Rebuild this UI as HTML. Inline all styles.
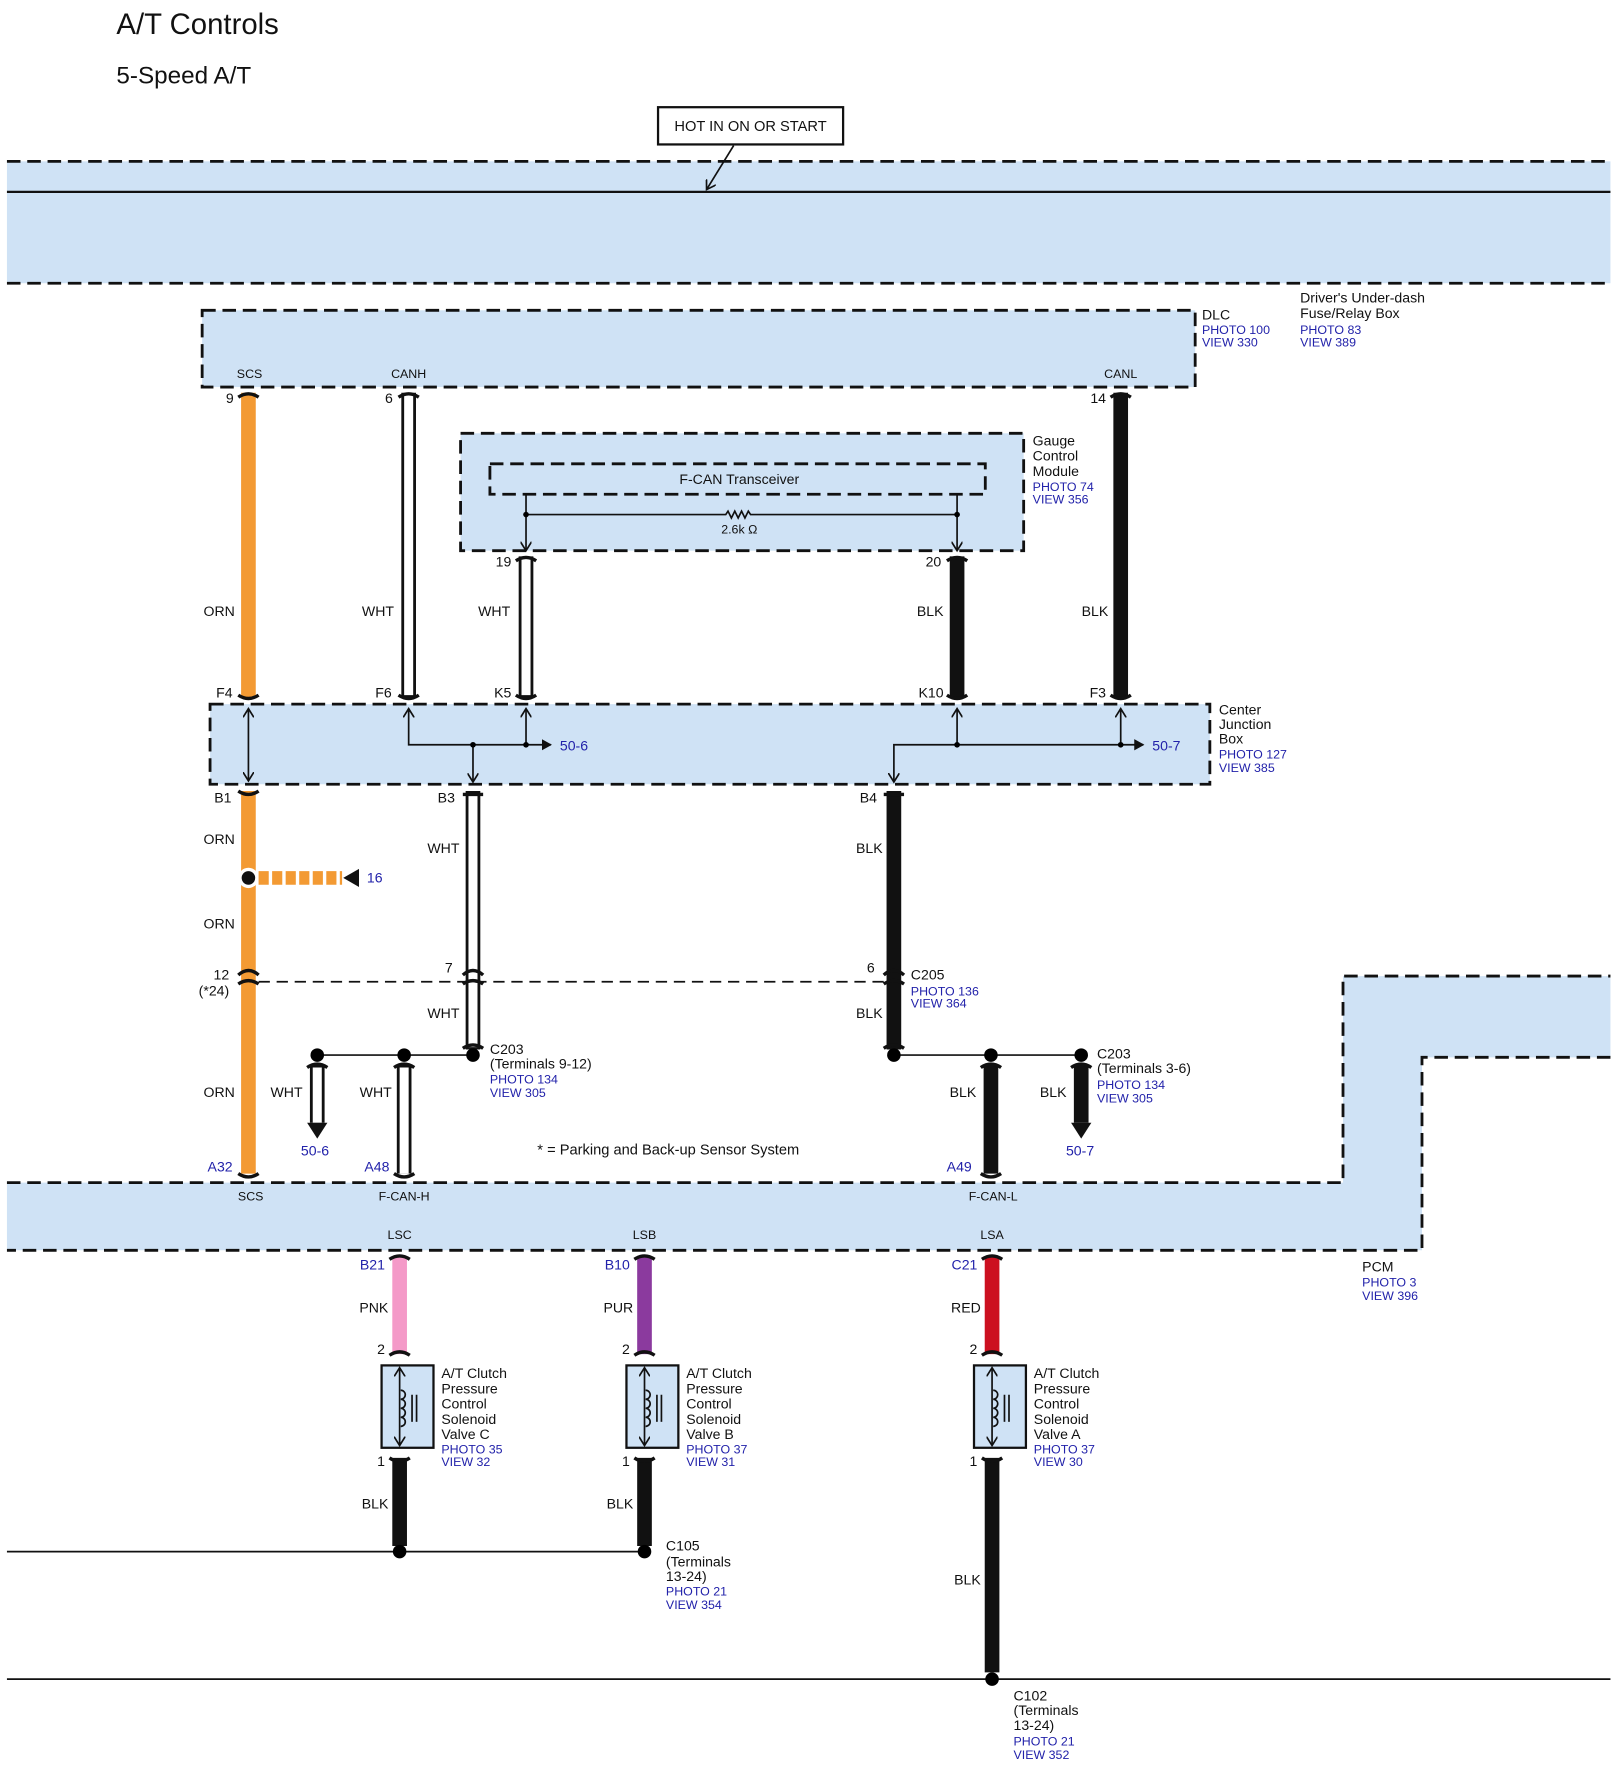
<!DOCTYPE html>
<html><head><meta charset="utf-8"><style>
html,body{margin:0;padding:0;background:#fff}
svg{display:block}
text{font-family:"Liberation Sans",sans-serif;font-size:12.5px;fill:#111}
.b{fill:#2222aa;font-size:11px}
.bl{fill:#2222aa}
.s{font-size:11px}
.d{stroke:#111;stroke-width:2.5;stroke-dasharray:12 6}
.ln{stroke:#111;stroke-width:1.5;fill:none}
.cap{stroke:#111;stroke-width:3;fill:none}
</style></head><body>
<svg width="1614" height="1766" viewBox="0 0 1430 1565" xmlns="http://www.w3.org/2000/svg">
<defs>
<marker id="ah" markerWidth="10" markerHeight="10" refX="8" refY="5" orient="auto-start-reverse" markerUnits="userSpaceOnUse"><path d="M0,0 L8,5 L0,10" fill="none" stroke="#111" stroke-width="1.5"/></marker>
<marker id="at" markerWidth="10" markerHeight="10" refX="8" refY="5" orient="auto-start-reverse" markerUnits="userSpaceOnUse"><path d="M0,0 L9,5 L0,10 Z" fill="#111"/></marker>
</defs>
<text x="103" y="30" style="font-size:26px">A/T Controls</text>
<text x="103" y="74" style="font-size:21.5px">5-Speed A/T</text>
<rect x="583" y="95" width="164" height="33" fill="#fff" stroke="#111" stroke-width="2"/>
<text x="665" y="116" text-anchor="middle" style="font-size:13px">HOT IN ON OR START</text>

<!-- top band -->
<rect x="6" y="143" width="1421" height="108" fill="#cfe2f5"/>
<line x1="6" y1="143" x2="1427" y2="143" class="d"/>
<line x1="6" y1="251" x2="1427" y2="251" class="d"/>
<line x1="6" y1="170" x2="1427" y2="170" stroke="#111" stroke-width="2"/>
<line x1="650" y1="129" x2="626" y2="168" class="ln" marker-end="url(#ah)"/>

<!-- DLC -->
<rect x="179" y="275" width="880" height="68" style="fill:#cfe2f5" class="d"/>
<text x="221" y="335" text-anchor="middle" class="s">SCS</text>
<text x="362" y="335" text-anchor="middle" class="s">CANH</text>
<text x="993" y="335" text-anchor="middle" class="s">CANL</text>
<text x="1065" y="283">DLC</text><text x="1065" y="296" class="b">PHOTO 100</text><text x="1065" y="307" class="b">VIEW 330</text>
<text x="1152" y="268">Driver's Under-dash</text><text x="1152" y="282">Fuse/Relay Box</text><text x="1152" y="296" class="b">PHOTO 83</text><text x="1152" y="307" class="b">VIEW 389</text>

<!-- Gauge -->
<rect x="408" y="384" width="499" height="104" style="fill:#cfe2f5" class="d"/>
<rect x="434" y="411" width="439" height="27" style="fill:none" class="d"/>
<text x="655" y="429" text-anchor="middle">F-CAN Transceiver</text>
<line x1="466" y1="438" x2="466" y2="488" class="ln" marker-end="url(#ah)"/>
<line x1="848" y1="438" x2="848" y2="488" class="ln" marker-end="url(#ah)"/>
<path d="M466,456 H643 l2,-3 l3,6 l3,-6 l3,6 l3,-6 l3,6 l3,-6 l2,3 H848" class="ln"/>
<circle cx="466" cy="456" r="2.5"/><circle cx="848" cy="456" r="2.5"/>
<text x="655" y="473" text-anchor="middle" class="s">2.6k Ω</text>
<text x="915" y="395">Gauge</text><text x="915" y="408">Control</text><text x="915" y="422">Module</text>
<text x="915" y="435" class="b">PHOTO 74</text><text x="915" y="446" class="b">VIEW 356</text>

<!-- wires top segment -->
<line x1="220" y1="348" x2="220" y2="618" stroke="#f39a33" stroke-width="13"/>
<line x1="362" y1="348" x2="362" y2="618" stroke="#111" stroke-width="13"/><line x1="362" y1="350" x2="362" y2="616" stroke="#fff" stroke-width="8"/>
<line x1="466" y1="493" x2="466" y2="618" stroke="#111" stroke-width="13"/><line x1="466" y1="495" x2="466" y2="616" stroke="#fff" stroke-width="8"/>
<line x1="848" y1="493" x2="848" y2="618" stroke="#111" stroke-width="13"/>
<line x1="993" y1="348" x2="993" y2="618" stroke="#111" stroke-width="13"/>
<g class="cap">
<path d="M211,352 Q220,346 229,352"/><path d="M353,352 Q362,346 371,352"/><path d="M984,352 Q993,346 1002,352"/>
<path d="M457,497 Q466,491 475,497"/><path d="M839,497 Q848,491 857,497"/>
<path d="M211,616 Q220,622 229,616"/><path d="M353,616 Q362,622 371,616"/><path d="M457,616 Q466,622 475,616"/><path d="M839,616 Q848,622 857,616"/><path d="M984,616 Q993,622 1002,616"/>
</g>
<text x="207" y="357" text-anchor="end">9</text><text x="348" y="357" text-anchor="end">6</text><text x="980" y="357" text-anchor="end">14</text>
<text x="453" y="502" text-anchor="end">19</text><text x="834" y="502" text-anchor="end">20</text>
<text x="208" y="546" text-anchor="end">ORN</text><text x="349" y="546" text-anchor="end">WHT</text><text x="452" y="546" text-anchor="end">WHT</text><text x="836" y="546" text-anchor="end">BLK</text><text x="982" y="546" text-anchor="end">BLK</text>
<text x="206" y="618" text-anchor="end">F4</text><text x="347" y="618" text-anchor="end">F6</text><text x="453" y="618" text-anchor="end">K5</text><text x="836" y="618" text-anchor="end">K10</text><text x="980" y="618" text-anchor="end">F3</text>

<!-- Junction box -->
<rect x="186" y="624" width="886" height="71" style="fill:#cfe2f5" class="d"/>
<line x1="220" y1="628" x2="220" y2="692" class="ln" marker-start="url(#ah)" marker-end="url(#ah)"/>
<path d="M362,628 V660 H488" class="ln" marker-end="url(#at)" marker-start="url(#ah)"/>
<line x1="466" y1="660" x2="466" y2="628" class="ln" marker-end="url(#ah)"/>
<line x1="419" y1="660" x2="419" y2="693" class="ln" marker-end="url(#ah)"/>
<circle cx="419" cy="660" r="2.5"/><circle cx="466" cy="660" r="2.5"/>
<text x="496" y="665" class="bl">50-6</text>
<path d="M792,693 V660 H1013" class="ln" marker-start="url(#ah)" marker-end="url(#at)"/>
<line x1="848" y1="660" x2="848" y2="628" class="ln" marker-end="url(#ah)"/>
<line x1="993" y1="660" x2="993" y2="628" class="ln" marker-end="url(#ah)"/>
<circle cx="848" cy="660" r="2.5"/><circle cx="993" cy="660" r="2.5"/>
<text x="1021" y="665" class="bl">50-7</text>
<text x="1080" y="633">Center</text><text x="1080" y="646">Junction</text><text x="1080" y="659">Box</text>
<text x="1080" y="672" class="b">PHOTO 127</text><text x="1080" y="684" class="b">VIEW 385</text>

<!-- middle wires -->
<line x1="220" y1="701" x2="220" y2="1040" stroke="#f39a33" stroke-width="13"/>
<line x1="419" y1="701" x2="419" y2="930" stroke="#111" stroke-width="13"/><line x1="419" y1="703" x2="419" y2="928" stroke="#fff" stroke-width="8"/>
<line x1="792" y1="701" x2="792" y2="930" stroke="#111" stroke-width="13"/>
<g class="cap">
<path d="M211,701 Q220,707 229,701" /><path d="M410,704 H428"/><path d="M783,704 H801"/>
<path d="M211,864 Q220,856 229,864"/><path d="M211,872 Q220,866 229,872"/>
<path d="M410,864 Q419,856 428,864"/><path d="M410,872 Q419,866 428,872"/>
<path d="M783,864 Q792,856 801,864"/><path d="M783,872 Q792,866 801,872"/>
<path d="M410,929 Q419,923 428,929"/><path d="M783,929 Q792,923 801,929"/>
</g>
<line x1="229" y1="870" x2="783" y2="870" class="ln" stroke-dasharray="10 6"/>
<text x="205" y="711" text-anchor="end">B1</text><text x="403" y="711" text-anchor="end">B3</text><text x="777" y="711" text-anchor="end">B4</text>
<text x="208" y="748" text-anchor="end">ORN</text><text x="208" y="823" text-anchor="end">ORN</text><text x="208" y="972" text-anchor="end">ORN</text>
<text x="407" y="756" text-anchor="end">WHT</text><text x="782" y="756" text-anchor="end">BLK</text>
<text x="407" y="902" text-anchor="end">WHT</text><text x="782" y="902" text-anchor="end">BLK</text>
<circle cx="220" cy="778" r="9" fill="#fff"/><circle cx="220" cy="778" r="6" fill="#111"/>
<line x1="229" y1="778" x2="303" y2="778" stroke="#f39a33" stroke-width="12" stroke-dasharray="9 3"/>
<path d="M318,770 L304,778 L318,786 Z" fill="#111"/>
<text x="325" y="782" class="bl">16</text>
<text x="203" y="868" text-anchor="end">12</text><text x="203" y="882" text-anchor="end">(*24)</text>
<text x="401" y="862" text-anchor="end">7</text><text x="775" y="862" text-anchor="end">6</text>
<text x="807" y="868">C205</text><text x="807" y="882" class="b">PHOTO 136</text><text x="807" y="893" class="b">VIEW 364</text>

<!-- C203 left -->
<line x1="281" y1="935" x2="419" y2="935" class="ln"/>
<circle cx="419" cy="935" r="6"/><circle cx="358" cy="935" r="6"/><circle cx="281" cy="935" r="6"/>
<line x1="358" y1="944" x2="358" y2="1040" stroke="#111" stroke-width="13"/><line x1="358" y1="946" x2="358" y2="1040" stroke="#fff" stroke-width="8"/>
<line x1="281" y1="944" x2="281" y2="995" stroke="#111" stroke-width="13"/><line x1="281" y1="946" x2="281" y2="995" stroke="#fff" stroke-width="8"/>
<path d="M272,995 L290,995 L281,1009 Z" fill="#111"/>
<g class="cap"><path d="M349,946 Q358,940 367,946"/><path d="M272,946 Q281,940 290,946"/><path d="M349,1040 Q358,1046 367,1040"/><path d="M211,1040 Q220,1046 229,1040"/></g>
<text x="268" y="972" text-anchor="end">WHT</text><text x="347" y="972" text-anchor="end">WHT</text>
<text x="279" y="1024" text-anchor="middle" class="bl">50-6</text>
<text x="434" y="934">C203</text><text x="434" y="947">(Terminals 9-12)</text><text x="434" y="960" class="b">PHOTO 134</text><text x="434" y="972" class="b">VIEW 305</text>
<!-- C203 right -->
<line x1="792" y1="935" x2="958" y2="935" class="ln"/>
<circle cx="792" cy="935" r="6"/><circle cx="878" cy="935" r="6"/><circle cx="958" cy="935" r="6"/>
<line x1="878" y1="944" x2="878" y2="1040" stroke="#111" stroke-width="13"/>
<line x1="958" y1="944" x2="958" y2="995" stroke="#111" stroke-width="13"/>
<path d="M949,995 L967,995 L958,1009 Z" fill="#111"/>
<g class="cap"><path d="M869,946 Q878,940 887,946"/><path d="M949,946 Q958,940 967,946"/><path d="M869,1040 Q878,1046 887,1040"/></g>
<text x="865" y="972" text-anchor="end">BLK</text><text x="945" y="972" text-anchor="end">BLK</text>
<text x="957" y="1024" text-anchor="middle" class="bl">50-7</text>
<text x="972" y="938">C203</text><text x="972" y="951">(Terminals 3-6)</text><text x="972" y="965" class="b">PHOTO 134</text><text x="972" y="977" class="b">VIEW 305</text>
<text x="476" y="1023" style="font-size:13px">* = Parking and Back-up Sensor System</text>
<text x="206" y="1038" text-anchor="end" class="bl">A32</text><text x="345" y="1038" text-anchor="end" class="bl">A48</text><text x="861" y="1038" text-anchor="end" class="bl">A49</text>

<!-- PCM -->
<path d="M6,1048 H1190 V865 H1427 V937 H1260 V1108 H6 Z" fill="#cfe2f5"/>
<path d="M6,1048 H1190 V865 H1427 M1427,937 H1260 V1108 H6" class="d" style="fill:none"/>
<text x="222" y="1064" text-anchor="middle" class="s">SCS</text><text x="358" y="1064" text-anchor="middle" class="s">F-CAN-H</text><text x="880" y="1064" text-anchor="middle" class="s">F-CAN-L</text>
<text x="354" y="1098" text-anchor="middle" class="s">LSC</text><text x="571" y="1098" text-anchor="middle" class="s">LSB</text><text x="879" y="1098" text-anchor="middle" class="s">LSA</text>
<text x="1207" y="1127">PCM</text><text x="1207" y="1140" class="b">PHOTO 3</text><text x="1207" y="1152" class="b">VIEW 396</text>
<text x="341" y="1125" text-anchor="end" class="bl">B21</text><text x="558" y="1125" text-anchor="end" class="bl">B10</text><text x="866" y="1125" text-anchor="end" class="bl">C21</text>

<!-- solenoid wires -->
<line x1="354" y1="1114" x2="354" y2="1200" stroke="#f49ac8" stroke-width="13"/>
<line x1="571" y1="1114" x2="571" y2="1200" stroke="#8b3a9e" stroke-width="13"/>
<line x1="879" y1="1114" x2="879" y2="1200" stroke="#cc1020" stroke-width="13"/>
<line x1="354" y1="1292" x2="354" y2="1370" stroke="#111" stroke-width="13"/>
<line x1="571" y1="1292" x2="571" y2="1370" stroke="#111" stroke-width="13"/>
<line x1="879" y1="1292" x2="879" y2="1482" stroke="#111" stroke-width="13"/>
<g class="cap">
<path d="M345,1116 Q354,1110 363,1116"/><path d="M562,1116 Q571,1110 580,1116"/><path d="M870,1116 Q879,1110 888,1116"/>
<path d="M345,1201 Q354,1195 363,1201"/><path d="M562,1201 Q571,1195 580,1201"/><path d="M870,1201 Q879,1195 888,1201"/>
<path d="M345,1292 Q354,1298 363,1292"/><path d="M562,1292 Q571,1298 580,1292"/><path d="M870,1292 Q879,1298 888,1292"/>
</g>
<text x="344" y="1163" text-anchor="end">PNK</text><text x="561" y="1163" text-anchor="end">PUR</text><text x="869" y="1163" text-anchor="end">RED</text>
<text x="341" y="1200" text-anchor="end">2</text><text x="558" y="1200" text-anchor="end">2</text><text x="866" y="1200" text-anchor="end">2</text>
<text x="341" y="1299" text-anchor="end">1</text><text x="558" y="1299" text-anchor="end">1</text><text x="866" y="1299" text-anchor="end">1</text>

<g id="solC">
<rect x="338" y="1210" width="46" height="73" fill="#cfe2f5" stroke="#111" stroke-width="2"/>
<line x1="354" y1="1212" x2="354" y2="1281" class="ln" marker-start="url(#ah)" marker-end="url(#ah)"/>
<path d="M355,1232 a4,4 0 0 1 0,8 a4,4 0 0 1 0,8 a4,4 0 0 1 0,8 a4,4 0 0 1 0,8" class="ln"/>
<line x1="365" y1="1236" x2="365" y2="1260" class="ln"/><line x1="369" y1="1236" x2="369" y2="1260" class="ln"/>
</g>
<use href="#solC" x="217"/>
<use href="#solC" x="525"/>
<text x="391" y="1221">A/T Clutch</text><text x="391" y="1235">Pressure</text><text x="391" y="1248">Control</text><text x="391" y="1262">Solenoid</text><text x="391" y="1275">Valve C</text><text x="391" y="1288" class="b">PHOTO 35</text><text x="391" y="1299" class="b">VIEW 32</text>
<text x="608" y="1221">A/T Clutch</text><text x="608" y="1235">Pressure</text><text x="608" y="1248">Control</text><text x="608" y="1262">Solenoid</text><text x="608" y="1275">Valve B</text><text x="608" y="1288" class="b">PHOTO 37</text><text x="608" y="1299" class="b">VIEW 31</text>
<text x="916" y="1221">A/T Clutch</text><text x="916" y="1235">Pressure</text><text x="916" y="1248">Control</text><text x="916" y="1262">Solenoid</text><text x="916" y="1275">Valve A</text><text x="916" y="1288" class="b">PHOTO 37</text><text x="916" y="1299" class="b">VIEW 30</text>
<text x="344" y="1337" text-anchor="end">BLK</text><text x="561" y="1337" text-anchor="end">BLK</text><text x="869" y="1404" text-anchor="end">BLK</text>

<!-- grounds -->
<line x1="6" y1="1375" x2="571" y2="1375" class="ln"/>
<circle cx="354" cy="1375" r="6"/><circle cx="571" cy="1375" r="6"/>
<text x="590" y="1374">C105</text><text x="590" y="1388">(Terminals</text><text x="590" y="1401">13-24)</text><text x="590" y="1414" class="b">PHOTO 21</text><text x="590" y="1426" class="b">VIEW 354</text>
<line x1="6" y1="1488" x2="1427" y2="1488" class="ln"/>
<circle cx="879" cy="1488" r="6"/>
<text x="898" y="1507">C102</text><text x="898" y="1520">(Terminals</text><text x="898" y="1533">13-24)</text><text x="898" y="1547" class="b">PHOTO 21</text><text x="898" y="1559" class="b">VIEW 352</text>
</svg>
</body></html>
